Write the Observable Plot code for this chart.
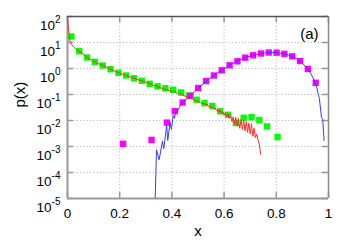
<!DOCTYPE html>
<html><head><meta charset="utf-8">
<script src="https://cdn.jsdelivr.net/npm/d3@7"></script>
<script src="https://cdn.jsdelivr.net/npm/@observablehq/plot@0.6"></script>
<style>body{margin:0;background:#fff;} svg{display:block}</style>
</head><body><div id="chart"></div>
<script>
// ---- data ----
const greenX = [0.015,0.045,0.075,0.105,0.135,0.165,0.195,0.225,0.255,0.285,0.315,0.345,0.375,0.405,0.435,0.465,0.495,0.525,0.555,0.585,0.615,0.645,0.675,0.705,0.735,0.765,0.805];
const greenP = [17.0,4.62,2.65,1.81,1.30,0.94,0.684,0.538,0.42,0.336,0.258,0.207,0.173,0.152,0.119,0.0916,0.063,0.0462,0.0361,0.0226,0.0166,0.0080,0.0127,0.0134,0.0104,0.0059,0.0023];

const magX = [0.213,0.322,0.381,0.411,0.441,0.471,0.501,0.531,0.561,0.591,0.621,0.651,0.681,0.711,0.741,0.771,0.801,0.831,0.861,0.891,0.921,0.951];
const magP = [0.00127,0.0018,0.0083,0.0228,0.0492,0.089,0.178,0.33,0.538,0.853,1.33,1.89,2.62,3.22,3.78,4.12,4.05,3.67,2.94,1.94,0.957,0.282];

const redX = [0,0.002,0.004,0.006,0.008,0.01,0.015,0.02,0.025,0.03,0.035,0.04,0.045,0.05,0.055,0.06,0.065,0.07,0.075,0.08,0.085,0.09,0.095,0.10,0.105,0.11,0.115,0.12,0.125,0.13,0.135,0.14,0.145,0.15,0.155,0.16,0.165,0.17,0.175,0.18,0.185,0.19,0.195,0.20,0.21,0.22,0.23,0.24,0.25,0.26,0.27,0.28,0.29,0.30,0.31,0.32,0.33,0.34,0.35,0.36,0.37,0.38,0.39,0.40,0.41,0.42,0.43,0.44,0.45,0.46,0.47,0.48,0.49,0.50,0.51,0.515,0.52,0.53,0.535,0.54,0.545,0.55,0.555,0.56,0.565,0.57,0.575,0.58,0.585,0.59,0.595,0.60,0.605,0.61,0.615,0.62,0.625,0.63,0.635,0.64,0.645,0.65,0.655,0.66,0.665,0.67,0.675,0.68,0.685,0.69,0.695,0.70,0.705,0.71,0.715,0.72,0.725,0.73,0.735,0.74];
const redP = [94,56,32,20,13,10.5,8.6,7.4,6.5,5.9,5.3,4.9,4.6,4.3,3.9,3.6,3.25,2.95,2.7,2.5,2.3,2.2,2.0,1.9,1.8,1.7,1.6,1.53,1.45,1.38,1.3,1.23,1.17,1.11,1.05,1.0,0.95,0.89,0.85,0.8,0.76,0.72,0.69,0.66,0.6,0.56,0.51,0.47,0.44,0.41,0.37,0.345,0.32,0.295,0.27,0.25,0.225,0.21,0.19,0.175,0.16,0.15,0.14,0.13,0.125,0.115,0.105,0.095,0.088,0.079,0.071,0.066,0.058,0.053,0.049,0.044,0.046,0.04,0.043,0.036,0.032,0.035,0.030,0.027,0.031,0.024,0.027,0.021,0.025,0.018,0.022,0.016,0.02,0.014,0.018,0.012,0.016,0.009,0.014,0.007,0.013,0.006,0.012,0.005,0.011,0.0045,0.010,0.004,0.009,0.0035,0.008,0.003,0.0075,0.0025,0.005,0.0022,0.003,0.0018,0.0012,0.0005];

const blueX = [0.336,0.341,0.351,0.364,0.369,0.380,0.384,0.393,0.398,0.405,0.41,0.415,0.42,0.43,0.44,0.45,0.46,0.47,0.48,0.49,0.50,0.51,0.52,0.53,0.54,0.55,0.56,0.57,0.58,0.59,0.60,0.61,0.62,0.63,0.64,0.65,0.66,0.67,0.68,0.69,0.70,0.71,0.72,0.73,0.74,0.75,0.76,0.77,0.78,0.79,0.80,0.81,0.82,0.83,0.84,0.85,0.86,0.87,0.88,0.89,0.90,0.91,0.92,0.93,0.94,0.95,0.955,0.96,0.965,0.97,0.973,0.978,0.983];
const blueP = [0.00001,0.00075,0.00031,0.0016,0.00083,0.0065,0.0017,0.0085,0.0045,0.016,0.012,0.024,0.021,0.035,0.047,0.058,0.072,0.088,0.11,0.14,0.175,0.21,0.26,0.32,0.39,0.45,0.53,0.62,0.72,0.84,0.97,1.13,1.31,1.5,1.68,1.88,2.1,2.35,2.6,2.8,3.0,3.2,3.4,3.6,3.75,3.9,4.0,4.1,4.12,4.1,4.05,3.95,3.82,3.65,3.45,3.2,2.95,2.65,2.3,1.95,1.6,1.25,0.95,0.7,0.45,0.28,0.19,0.11,0.07,0.025,0.0134,0.0107,0.0017];

const xTicks = [0,0.2,0.4,0.6,0.8,1];
const xTickLabels = ["0","0.2","0.4","0.6","0.8","1"];
const yTicks = [1e-5,1e-4,1e-3,1e-2,1e-1,1e0,1e1,1e2];
const yTickExps = ["-5","-4","-3","-2","-1","0","1","2"];

// ---- layout ----
const W = 346, H = 247, ML = 67, MR = 18, MT = 16, MB = 49;
const innerW = W - ML - MR, innerH = H - MT - MB, TICK = 6;
const FONT = "'Liberation Sans', Arial, sans-serif";

const green = greenX.map((x, i) => ({x, p: greenP[i]}));
const mag = magX.map((x, i) => ({x, p: magP[i]}));
const red = redX.map((x, i) => ({x, p: redP[i]}));
const blue = blueX.map((x, i) => ({x, p: blueP[i]}));

const gridStyle = {stroke: "#b0b0b0", strokeOpacity: 1, strokeWidth: 1, strokeDasharray: "1,2.3"};
const tickStyle = {stroke: "#999", strokeWidth: 1.5};

const chart = Plot.plot({
  width: W, height: H,
  marginLeft: ML, marginRight: MR, marginTop: MT, marginBottom: MB,
  style: {fontFamily: FONT, fontSize: "13px", background: "#fff", color: "#000", overflow: "visible"},
  x: {domain: [0, 1], axis: null},
  y: {type: "log", domain: [1e-5, 1e2], axis: null},
  marks: [
    Plot.gridX(xTicks.slice(1, -1), gridStyle),
    Plot.gridY(yTicks.slice(1, -1), gridStyle),
    Plot.tickY(yTicks, {y: d => d, insetRight: innerW - TICK, ...tickStyle}),
    Plot.tickY(yTicks, {y: d => d, insetLeft: innerW - TICK, ...tickStyle}),
    Plot.tickX(xTicks, {x: d => d, insetBottom: innerH - TICK, ...tickStyle}),
    Plot.tickX(xTicks, {x: d => d, insetTop: innerH - TICK, ...tickStyle}),
    Plot.ruleX([0], {stroke: "#999", strokeWidth: 2}),
    Plot.ruleY([1e-5], {stroke: "#999", strokeWidth: 2}),
    Plot.ruleY([1e2], {stroke: "#555", strokeWidth: 1.3}),
    Plot.ruleX([1], {stroke: "#888", strokeWidth: 1.5}),
    Plot.axisY(yTicks, {tickSize: 0, tickPadding: 7, label: null, fontSize: 13.5,
      tickFormat: d => yTickExps[yTicks.indexOf(d)]}),
    Plot.axisX(xTicks, {tickSize: 0, tickPadding: 10, label: null, fontSize: 13.5,
      tickFormat: d => xTickLabels[xTicks.indexOf(d)]}),
    Plot.dot(green, {x: "x", y: "p", symbol: "square", r: 3.6, fill: "#00ff00", stroke: "none"}),
    Plot.dot(mag, {x: "x", y: "p", symbol: "square", r: 3.6, fill: "#ff00ff", stroke: "none"}),
    Plot.line(red, {x: "x", y: "p", stroke: "#ff2a2a", strokeWidth: 1, clip: true}),
    Plot.line(blue, {x: "x", y: "p", stroke: "#3a3aff", strokeWidth: 1, clip: true}),
    Plot.text(["p(x)"], {text: d => d, frameAnchor: "left", dx: -47, rotate: -90, fontSize: 15}),
    Plot.text(["x"], {text: d => d, frameAnchor: "bottom", dy: 37, fontSize: 15}),
    Plot.text(["(a)"], {text: d => d, frameAnchor: "top-right", dx: -10, dy: 12, textAnchor: "end", fontSize: 15})
  ]
});

// superscript exponents on the y tick labels
const NS = "http://www.w3.org/2000/svg";
chart.querySelectorAll('g[aria-label="y-axis tick label"] text').forEach(t => {
  const e = t.textContent;
  t.textContent = "";
  t.setAttribute("dy", "9");
  const base = document.createElementNS(NS, "tspan");
  base.textContent = "10";
  const sup = document.createElementNS(NS, "tspan");
  sup.textContent = e;
  sup.setAttribute("dy", "-6.5");
  sup.setAttribute("font-size", "10");
  t.append(base, sup);
});

document.getElementById("chart").append(chart);
</script>
</body></html>
